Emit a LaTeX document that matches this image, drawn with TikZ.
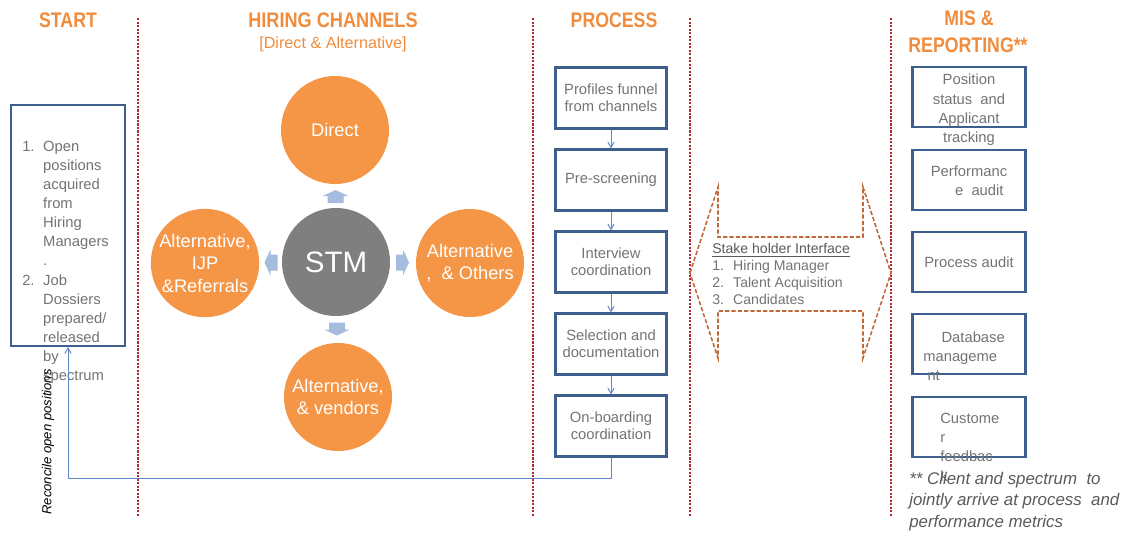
\documentclass[tikz,border=0pt]{standalone}
\usepackage{fontspec}
\setmainfont{Liberation Sans}
\usepackage{graphicx}
\usepackage{xcolor}
\usepackage{tikz}
\usetikzlibrary{shapes.geometric, arrows, calc, positioning}
\definecolor{hdorange}{RGB}{240,140,60}
\definecolor{chorange}{RGB}{245,150,70}
\definecolor{stmgray}{RGB}{127,127,127}
\definecolor{boxblue}{RGB}{62,95,140}
\definecolor{lnblue}{RGB}{95,135,200}
\definecolor{arrblue}{RGB}{165,188,222}
\definecolor{divred}{RGB}{175,40,50}
\definecolor{ifbrown}{RGB}{190,105,55}
\definecolor{txtgray}{RGB}{115,115,115}
\definecolor{notegray}{RGB}{90,90,90}
\tikzstyle{heading} = [font=\fontsize{15}{17}\selectfont\bfseries, text=hdorange, inner sep=0]
\tikzstyle{divider} = [draw=divred, line width=0.8pt, dash pattern=on 1.5pt off 1pt]
\tikzstyle{chan} = [circle, fill=chorange, minimum size=2.7cm, inner sep=0, text=white, align=center, font=\fontsize{13}{16}\selectfont]
\tikzstyle{procbox} = [rectangle, draw=boxblue, line width=1.5pt, minimum width=2.775cm, minimum height=1.525cm, align=center, text=txtgray, font=\fontsize{10.5}{12}\selectfont]
\tikzstyle{misbox} = [rectangle, draw=boxblue, line width=1.5pt, minimum width=2.825cm, minimum height=1.5cm]
\tikzstyle{mistext} = [text=txtgray, font=\fontsize{10.5}{13.7}\selectfont, inner sep=0]
\tikzstyle{flow} = [draw=lnblue, line width=0.7pt, ->, >=angle 60]
\tikzstyle{blockarrow} = [fill=arrblue]
\begin{document}
\begin{tikzpicture}[x=0.025cm, y=-0.025cm]
\useasboundingbox (0,0) rectangle (1131,533);
\foreach \x in {138,533,690,891}
  \draw[divider] (\x,18) -- (\x,517);
\node[heading] (hstart) at (68,20) {\scalebox{0.84}[1]{START}};
\node[heading] (hhire) at (333,20) {\scalebox{0.86}[1]{HIRING CHANNELS}};
\node[text=hdorange, inner sep=0, font=\fontsize{11.5}{13}\selectfont] (hhiresub) at (333,44) {[Direct \& Alternative]};
\node[heading] (hproc) at (614,20) {\scalebox{0.84}[1]{PROCESS}};
\node[heading] (hmis) at (969,18) {\scalebox{0.84}[1]{MIS \&}};
\node[heading] (hrep) at (968,45) {\scalebox{0.84}[1]{REPORTING**}};

\node[draw=boxblue, line width=1.5pt, minimum width=2.85cm, minimum height=6.025cm] (startbox) at (68,225.5) {};
\node[anchor=north west, inner sep=0, text=txtgray, font=\fontsize{10.5}{13.55}\selectfont] (startlist) at (22,138) {%
\begin{tabular}{@{}p{14.9pt}@{}l@{}}
1. & Open\\
 & positions\\
 & acquired\\
 & from\\
 & Hiring\\
 & Managers\\
 & .\\
2. & Job\\
 & Dossiers\\
 & prepared/\\
 & released\\
 & by\\
 & spectrum
\end{tabular}};
\node[rotate=90, inner sep=0, font=\fontsize{9.3}{11}\selectfont\itshape] (reclabel) at (48,442) {Reconcile open positions};

\node[chan] (direct) at (335,130) {Direct};
\node[chan, fill=stmgray, font=\fontsize{21}{24}\selectfont] (stm) at (336,262) {STM};
\node[chan] (altijp) at (205,263) {Alternative,\\IJP\\\&Referrals};
\node[chan] (altoth) at (470,263) {Alternative\\,\ \ \& Others};
\node[chan] (altven) at (338,397) {Alternative,\\\& vendors};
\coordinate (arrup) at ($(stm)!0.5!(direct)$);
\coordinate (arrdn) at ($(stm)!0.5!(altven)$);
\coordinate (arrlt) at ($(stm)!0.5!(altijp)$);
\coordinate (arrrt) at ($(stm)!0.5!(altoth)$);
\fill[blockarrow] (arrup) ++(0,-6) -- ++(13,6) -- ++(-5,0) -- ++(0,7) -- ++(-16,0) -- ++(0,-7) -- ++(-5,0) -- cycle;
\fill[blockarrow] (arrdn) ++(0,6) -- ++(13,-6) -- ++(-5,0) -- ++(0,-7) -- ++(-16,0) -- ++(0,7) -- ++(-5,0) -- cycle;
\fill[blockarrow] (arrlt) ++(-6,0) -- ++(6,13) -- ++(0,-5) -- ++(7,0) -- ++(0,-16) -- ++(-7,0) -- ++(0,-5) -- cycle;
\fill[blockarrow] (arrrt) ++(6,0) -- ++(-6,13) -- ++(0,-5) -- ++(-7,0) -- ++(0,-16) -- ++(7,0) -- ++(0,-5) -- cycle;

\node[procbox] (pr1) at (611,98) {Profiles funnel\\from channels};
\node[procbox] (pr2) at (611,180) {Pre-screening};
\node[procbox] (pr3) at (611,262) {Interview\\coordination};
\node[procbox] (pr4) at (611,344) {Selection and\\documentation};
\node[procbox] (pr5) at (611,426) {On-boarding\\coordination};
\foreach \a/\b in {pr1/pr2,pr2/pr3,pr3/pr4,pr4/pr5}
  \draw[flow] (\a) -- (\b);
\coordinate (retcorner) at (611,478);
\draw[flow] (pr5.south) -- (retcorner) -| (startbox.south);

\draw[draw=ifbrown, line width=1.1pt, dash pattern=on 3pt off 1.5pt] (690,273) -- (718,187) -- (718,237) -- (863,237) -- (863,187) -- (891,273) -- (863,358) -- (863,311) -- (718,311) -- (718,358) -- cycle;
\node[anchor=north west, inner sep=0, text=txtgray, font=\fontsize{10}{11.9}\selectfont] (stakelist) at (712,242) {%
\begin{tabular}{@{}p{14.9pt}@{}l@{}}
\multicolumn{2}{@{}l@{}}{\textcolor{notegray}{\underline{Stake holder Interface}}}\\
1. & Hiring Manager\\
2. & Talent Acquisition\\
3. & Candidates
\end{tabular}};

\node[misbox] (mis1) at (969,97) {};
\node[misbox] (mis2) at (969,180) {};
\node[misbox] (mis3) at (969,262) {};
\node[misbox] (mis4) at (969,344) {};
\node[misbox] (mis5) at (969,427) {};
\node[mistext, align=center] (mt1) at (969,110) {Position\\status\ \ and\\Applicant\\tracking};
\node[mistext, align=center] (mt2) at (969,181) {Performanc\\\hspace{1.4em}e\ \ audit};
\node[mistext, align=center] (mt3) at (969,262) {Process audit};
\node[mistext, align=left, anchor=west] (mt4) at (923,356) {\hspace{13pt}Database\\manageme\\\hspace{3pt}nt};
\node[mistext, align=left, anchor=west] (mt5) at (940,447) {Custome\\r\\feedbac\\k};
\node[anchor=north west, inner sep=0, align=left, text=notegray, font=\fontsize{12}{15.2}\selectfont\itshape] (note) at (909,472) {** Client and spectrum\ \ to\\jointly arrive at process\ \ and\\performance metrics};
\end{tikzpicture}
\end{document}
